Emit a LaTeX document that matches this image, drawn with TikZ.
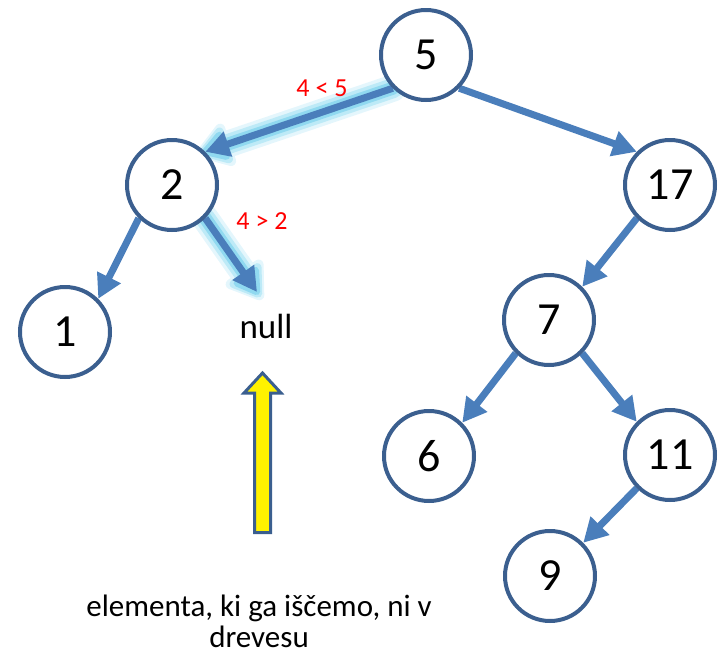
\documentclass[tikz,border=0pt]{standalone}
\usepackage{fontspec}
\setmainfont{Carlito}
\usetikzlibrary{arrows.meta,backgrounds}
\definecolor{ringblue}{HTML}{3B5F8F}
\definecolor{edgeblue}{HTML}{4A7EBB}
\definecolor{glowfar}{HTML}{E4F6FC}
\definecolor{glowout}{HTML}{BDEAF7}
\definecolor{glowin}{HTML}{90D9F0}
\begin{document}
\begin{tikzpicture}[x=1pt,y=-1pt,
		vertex/.style={circle, draw=ringblue, line width=4pt, fill=white, minimum size=90pt, inner sep=0pt, font=\fontsize{46}{46}\selectfont},
		edge/.style={draw=edgeblue, line width=7pt, -{Triangle[length=24pt,width=25pt]}},
		glow/.style={draw=#1, line cap=round, line join=round},
		cmp/.style={text=red, font=\fontsize{26}{26}\selectfont},
		pointer/.style={draw=ringblue, fill=yellow, line width=3pt, line join=miter}]
	\useasboundingbox (0,0) rectangle (721,654);
	\node [vertex] (n5) at (426,55) {5};
	\node [vertex] (n2) at (172,185) {2};
	\node [vertex] (n17) at (670,185) {17};
	\node [vertex] (n1) at (65,332) {1};
	\node [vertex] (n7) at (549,320) {7};
	\node [vertex] (n6) at (429,456) {6};
	\node [vertex] (n11) at (670,455) {11};
	\node [vertex] (n9) at (550,576) {9};
	\node [font=\fontsize{35}{35}\selectfont] (null) at (266,326) {null};
	\coordinate (tipnull) at (257,292);
	\begin{scope}[on background layer]
		\draw [glow=glowfar, line width=27pt, shorten >=-9pt, -{Triangle[length=40pt,width=50pt,round]}] (n5.south west) -- (n2.north east);
		\draw [glow=glowfar, line width=27pt, shorten >=-9pt, -{Triangle[length=40pt,width=50pt,round]}] (n2.south east) -- (tipnull);
		\draw [glow=glowout, line width=20pt, shorten >=-6pt, -{Triangle[length=34pt,width=42pt,round]}] (n5.south west) -- (n2.north east);
		\draw [glow=glowout, line width=20pt, shorten >=-6pt, -{Triangle[length=34pt,width=42pt,round]}] (n2.south east) -- (tipnull);
		\draw [glow=glowin, line width=13pt, shorten >=-3pt, -{Triangle[length=29pt,width=33pt,round]}] (n5.south west) -- (n2.north east);
		\draw [glow=glowin, line width=13pt, shorten >=-3pt, -{Triangle[length=29pt,width=33pt,round]}] (n2.south east) -- (tipnull);
		\draw [edge] (n5.south west) -- (n2.north east);
		\draw [edge] (n5.south east) -- (n17.north west);
		\draw [edge] (n2.south west) -- (n1.north east);
		\draw [edge] (n2.south east) -- (tipnull);
		\draw [edge] (n17.south west) -- (n7.north east);
		\draw [edge] (n7.south west) -- (n6.north east);
		\draw [edge] (n7.south east) -- (n11.north west);
		\draw [edge] (n11.south west) -- (n9.north east);
	\end{scope}
	\node [cmp] (lt) at (322,88) {4 < 5};
	\node [cmp] (gt) at (262,221) {4 > 2};
	\draw [pointer] (262.5,373) -- (281,393) -- (270.5,393) -- (270.5,532.5) -- (254.5,532.5) -- (254.5,393) -- (244,393) -- cycle;
	\node [font=\fontsize{31}{31}\selectfont, align=center] (msg) at (259,621) {elementa, ki ga iščemo, ni v\\drevesu};
\end{tikzpicture}
\end{document}
